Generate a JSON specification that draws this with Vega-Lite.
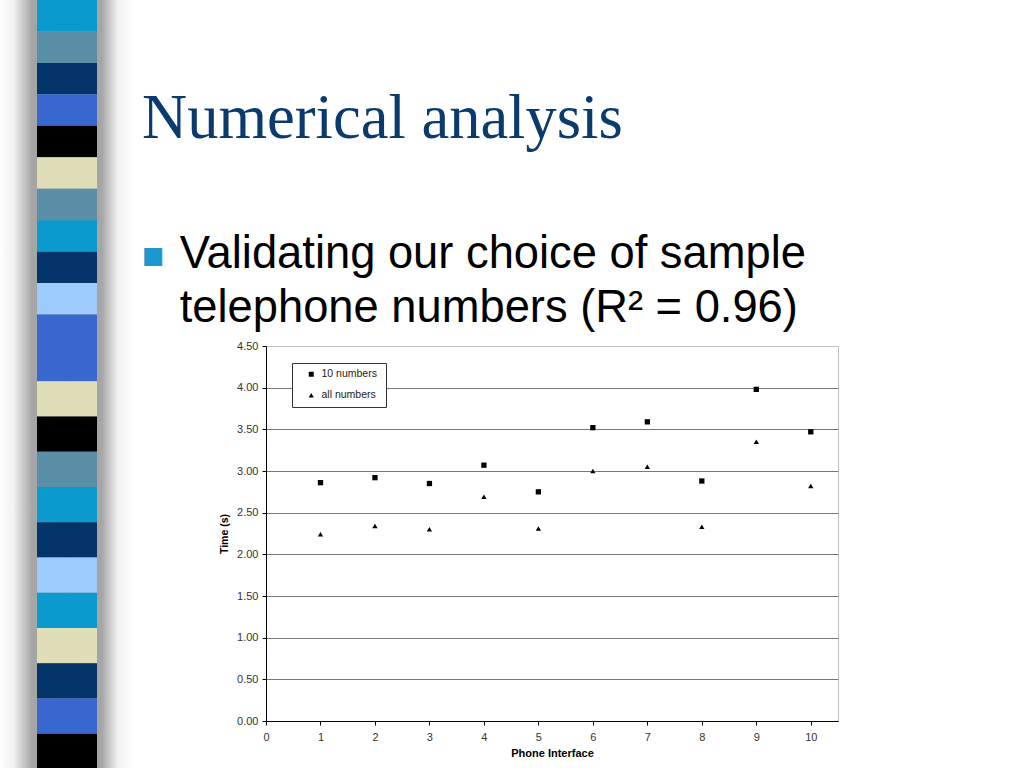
{
  "$schema": "https://vega.github.io/schema/vega-lite/v6.json",
  "padding": 0,
  "background": "white",
  "title": {"text": "■", "anchor": "start", "frame": "group", "dx": 142, "offset": -276, "color": "#1b98d0", "font": "Liberation Sans", "fontSize": 37, "fontWeight": "normal", "baseline": "top"},
  "columns": 2,
  "align": "each",
  "spacing": {"row": -8, "column": 8},
  "resolve": {"legend": {"shape": "independent"}},
  "concat": [
    {
      "width": 134,
      "height": 346,
      "view": {"stroke": null},
      "layer": [
        {
          "data": {"values": [{"part": "shadow"}]},
          "mark": {"type": "rect", "color": {"gradient": "linear", "x1": 0, "x2": 1, "y1": 0, "y2": 0, "stops": [
            {"offset": 0, "color": "#ffffff"},
            {"offset": 0.1, "color": "#f2f2f2"},
            {"offset": 0.24, "color": "#a6a6a6"},
            {"offset": 0.5, "color": "#999999"},
            {"offset": 0.76, "color": "#a6a6a6"},
            {"offset": 0.88, "color": "#f2f2f2"},
            {"offset": 1, "color": "#ffffff"}]}},
          "encoding": {}
        },
        {
          "data": {"values": [
            {"stripe": 1, "tone": "cyan"}, {"stripe": 2, "tone": "steel"}, {"stripe": 3, "tone": "navy"},
            {"stripe": 4, "tone": "royal"}, {"stripe": 5, "tone": "black"}, {"stripe": 6, "tone": "beige"},
            {"stripe": 7, "tone": "steel"}, {"stripe": 8, "tone": "cyan"}, {"stripe": 9, "tone": "navy"},
            {"stripe": 10, "tone": "light"}, {"stripe": 11, "tone": "royal"}]},
          "mark": {"type": "rect"},
          "encoding": {
            "y": {"field": "stripe", "type": "ordinal", "axis": null, "scale": {"paddingInner": 0, "paddingOuter": 0}},
            "x": {"datum": "strip", "type": "nominal", "axis": null, "scale": {"paddingInner": 0, "paddingOuter": 0.6167}},
            "color": {"field": "tone", "type": "nominal", "legend": null, "scale": {
              "domain": ["cyan", "steel", "navy", "royal", "black", "beige", "light"],
              "range": ["#0a9acd", "#5a8fa7", "#03356a", "#3868cf", "#000000", "#dfdeb9", "#9dcbfb"]}}
          }
        }
      ]
    },
    {
      "width": 572,
      "height": 345,
      "view": {"stroke": null},
      "title": {
        "text": ["", "Numerical analysis"],
        "subtitle": ["\u200b\u00a0\u00a0\u00a0Validating our choice of sample", "\u200b\u00a0\u00a0\u00a0telephone numbers (R² = 0.96)"],
        "anchor": "start", "frame": "group", "dx": -124, "offset": -332,
        "font": "Liberation Serif", "fontSize": 62.5, "fontWeight": "normal", "color": "#0b3a6e", "lineHeight": 87,
        "subtitleFont": "Liberation Sans", "subtitleFontSize": 45.3, "subtitleColor": "#000000", "subtitleLineHeight": 54,
        "subtitlePadding": 80
      },
      "data": {"values": []},
      "mark": {"type": "point"}
    },
    {
      "width": 134,
      "height": 423,
      "view": {"stroke": null},
      "layer": [
        {
          "data": {"values": [{"part": "shadow"}]},
          "mark": {"type": "rect", "color": {"gradient": "linear", "x1": 0, "x2": 1, "y1": 0, "y2": 0, "stops": [
            {"offset": 0, "color": "#ffffff"},
            {"offset": 0.1, "color": "#f2f2f2"},
            {"offset": 0.24, "color": "#a6a6a6"},
            {"offset": 0.5, "color": "#999999"},
            {"offset": 0.76, "color": "#a6a6a6"},
            {"offset": 0.88, "color": "#f2f2f2"},
            {"offset": 1, "color": "#ffffff"}]}},
          "encoding": {}
        },
        {
          "data": {"values": [
            {"stripe": 11, "tone": "royal"}, {"stripe": 12, "tone": "beige"},
            {"stripe": 13, "tone": "black"}, {"stripe": 14, "tone": "steel"}, {"stripe": 15, "tone": "cyan"},
            {"stripe": 16, "tone": "navy"}, {"stripe": 17, "tone": "light"}, {"stripe": 18, "tone": "cyan"},
            {"stripe": 19, "tone": "beige"}, {"stripe": 20, "tone": "navy"}, {"stripe": 21, "tone": "royal"},
            {"stripe": 22, "tone": "black"}]},
          "mark": {"type": "rect"},
          "encoding": {
            "y": {"field": "stripe", "type": "ordinal", "axis": null, "scale": {"paddingInner": 0, "paddingOuter": 0}},
            "x": {"datum": "strip", "type": "nominal", "axis": null, "scale": {"paddingInner": 0, "paddingOuter": 0.6167}},
            "color": {"field": "tone", "type": "nominal", "legend": null, "scale": {
              "domain": ["cyan", "steel", "navy", "royal", "black", "beige", "light"],
              "range": ["#0a9acd", "#5a8fa7", "#03356a", "#3868cf", "#000000", "#dfdeb9", "#9dcbfb"]}}
          }
        }
      ]
    },
    {
      "width": 572,
      "height": 375,
      "view": {"stroke": "#c0c0c0"},
      "data": {"values": [
        {"interface": 1, "series": "10 numbers", "time": 2.86},
        {"interface": 2, "series": "10 numbers", "time": 2.92},
        {"interface": 3, "series": "10 numbers", "time": 2.85},
        {"interface": 4, "series": "10 numbers", "time": 3.07},
        {"interface": 5, "series": "10 numbers", "time": 2.75},
        {"interface": 6, "series": "10 numbers", "time": 3.52},
        {"interface": 7, "series": "10 numbers", "time": 3.59},
        {"interface": 8, "series": "10 numbers", "time": 2.88},
        {"interface": 9, "series": "10 numbers", "time": 3.98},
        {"interface": 10, "series": "10 numbers", "time": 3.47},
        {"interface": 1, "series": "all numbers", "time": 2.24},
        {"interface": 2, "series": "all numbers", "time": 2.34},
        {"interface": 3, "series": "all numbers", "time": 2.30},
        {"interface": 4, "series": "all numbers", "time": 2.69},
        {"interface": 5, "series": "all numbers", "time": 2.31},
        {"interface": 6, "series": "all numbers", "time": 3.00},
        {"interface": 7, "series": "all numbers", "time": 3.05},
        {"interface": 8, "series": "all numbers", "time": 2.33},
        {"interface": 9, "series": "all numbers", "time": 3.35},
        {"interface": 10, "series": "all numbers", "time": 2.82}
      ]},
      "mark": {"type": "point", "filled": true, "opacity": 1, "size": 28},
      "encoding": {
        "x": {"field": "interface", "type": "quantitative", "title": "Phone Interface",
          "scale": {"domain": [0, 10.5], "nice": false, "zero": true},
          "axis": {"values": [0, 1, 2, 3, 4, 5, 6, 7, 8, 9, 10], "grid": false, "domainColor": "#000000", "tickColor": "#000000", "tickSize": 4,
            "labelFont": "Liberation Sans", "labelFontSize": 11, "labelColor": "#333333", "labelPadding": 6, "labelFlush": false,
            "titleFont": "Liberation Sans", "titleFontSize": 11, "titleFontWeight": "bold", "titleColor": "#000000", "titlePadding": 5}},
        "y": {"field": "time", "type": "quantitative", "title": "Time (s)",
          "scale": {"domain": [0, 4.5], "nice": false},
          "axis": {"values": [0, 0.5, 1, 1.5, 2, 2.5, 3, 3.5, 4, 4.5], "format": ".2f", "grid": true,
            "gridColor": {"condition": {"test": "datum.value >= 4.5", "value": "#c0c0c0"}, "value": "#777777"},
            "domainColor": "#000000", "tickColor": "#000000", "tickSize": 4,
            "labelFont": "Liberation Sans", "labelFontSize": 11, "labelColor": "#333333", "labelPadding": 4, "labelFlush": false,
            "titleFont": "Liberation Sans", "titleFontSize": 10.5, "titleFontWeight": "bold", "titleColor": "#000000", "titlePadding": 7}},
        "shape": {"field": "series", "type": "nominal",
          "scale": {"domain": ["10 numbers", "all numbers"], "range": ["square", "triangle-up"]},
          "legend": {"orient": "none", "legendX": 26, "legendY": 17, "title": null, "padding": 6,
            "strokeColor": "#333333", "fillColor": "#ffffff", "symbolSize": 25, "symbolFillColor": "#000000", "symbolStrokeColor": "#000000",
            "symbolOffset": 8, "labelFont": "Liberation Sans", "labelFontSize": 10.5, "labelColor": "#222222", "labelOffset": 5,
            "rowPadding": 10, "labelExpr": "datum.label + '\u00a0\u200b'"}},
        "color": {"value": "#000000"}
      }
    }
  ]
}
